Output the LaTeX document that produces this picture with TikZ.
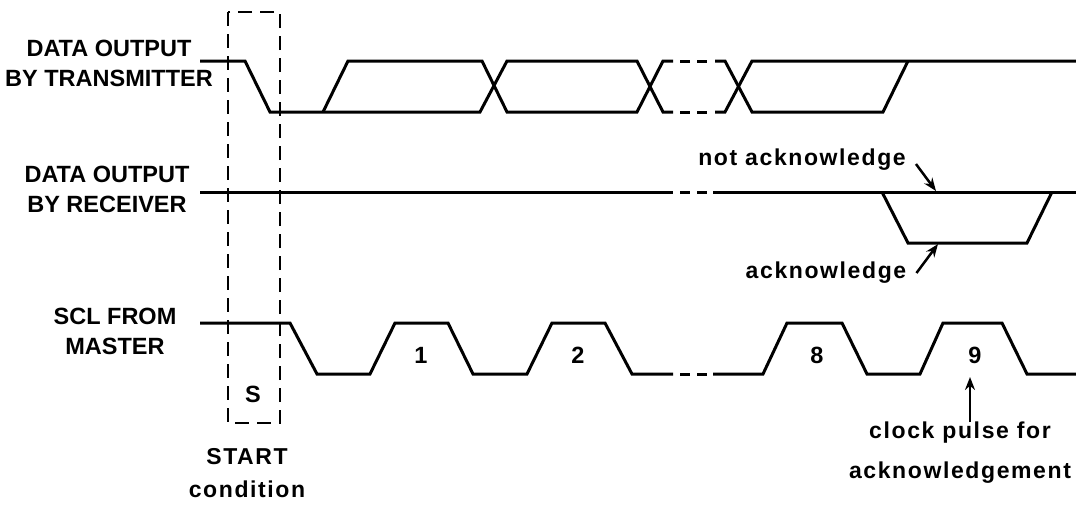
\documentclass[tikz,border=0pt]{standalone}
\usepackage{fontspec}
\setmainfont{Liberation Sans}
\newfontfamily\notefam[LetterSpace=7]{Liberation Sans}
\newcommand\capfont{\bfseries\fontsize{23.5}{30}\selectfont}
\newcommand\notefont{\notefam\bfseries\fontsize{23}{40}\selectfont}
\usetikzlibrary{arrows.meta,positioning,calc}

\begin{document}
\begin{tikzpicture}[x=1pt, y=-1pt, >={Stealth[length=13pt,width=10pt]}]
        \tikzstyle{signal}=[line width=3pt, line join=miter]
        \tikzstyle{gap}=[line width=3pt, dash pattern=on 10pt off 7pt]
        \tikzstyle{window}=[line width=2pt, dash pattern=on 14pt off 8pt]
        \tikzstyle{lbl}=[font=\capfont, align=center, inner sep=0pt]
        \tikzstyle{note}=[font=\notefont, align=center, inner sep=0pt]
        \tikzstyle{pointer}=[->, line width=2.5pt]
        \useasboundingbox (0,0) rectangle (1076,504);

        \node[lbl] (TX)  at (109,63)  {DATA OUTPUT\\BY TRANSMITTER};
        \node[lbl] (RX)  at (107,189) {DATA OUTPUT\\BY RECEIVER};
        \node[lbl] (SCL) at (115,331) {SCL FROM\\MASTER};

        \draw[window] (228,12) rectangle (280,423);
        \node[lbl] (S) at (253,394) {S};
        \node[note] (START) at (247,473) {START\\[-7pt]condition};

        \draw[signal] (200,61) -- (245,61) -- (270,112) -- (480,112) -- (507,61)
            -- (637,61) -- (663,112) -- (673,112);
        \draw[signal] (715,112) -- (725,112) -- (752,61) -- (1076,61);
        \draw[signal] (323,112) -- (348,61) -- (482,61) -- (507,112)
            -- (637,112) -- (663,61) -- (673,61);
        \draw[signal] (715,61) -- (725,61) -- (752,112) -- (883,112) -- (908,61);

        \draw[signal] (200,192) -- (673,192);
        \draw[signal] (713,192) -- (1076,192);
        \draw[signal] (882,192) -- (908,243) -- (1027,243) -- (1052,192);

        \draw[signal] (200,323) -- (290,323) -- (317,374) -- (370,374) -- (395,323)
            -- (448,323) -- (473,374) -- (527,374) -- (552,323) -- (605,323)
            -- (632,374) -- (673,374);
        \draw[signal] (713,374) -- (763,374) -- (787,323) -- (842,323) -- (867,374)
            -- (920,374) -- (943,323) -- (1002,323) -- (1027,374) -- (1076,374);

        \foreach \y in {61,112,192,374}
            \draw[gap] (680,\y) -- (707,\y);

        \foreach \x/\n in {421/1, 578/2, 817/8, 975/9}
            \node[lbl] (P\n) at (\x,355) {\n};

        \node[note] (NACK) at (802,160) {not acknowledge};
        \node[note] (ACK)  at (826,273) {acknowledge};
        \node[note] (CLK)  at (960,453) {clock pulse for\\acknowledgement};
        \coordinate (NACKpt) at (936,191);
        \coordinate (ACKpt)  at (938,244);
        \coordinate (CLKpt)  at (970,377);

        \draw[pointer] ([shift={(10,4)}]NACK.east) -- (NACKpt);
        \draw[pointer] ([shift={(10,0)}]ACK.east) -- (ACKpt);
        \draw[pointer] (CLK.north -| CLKpt) -- (CLKpt);
\end{tikzpicture}
\end{document}
